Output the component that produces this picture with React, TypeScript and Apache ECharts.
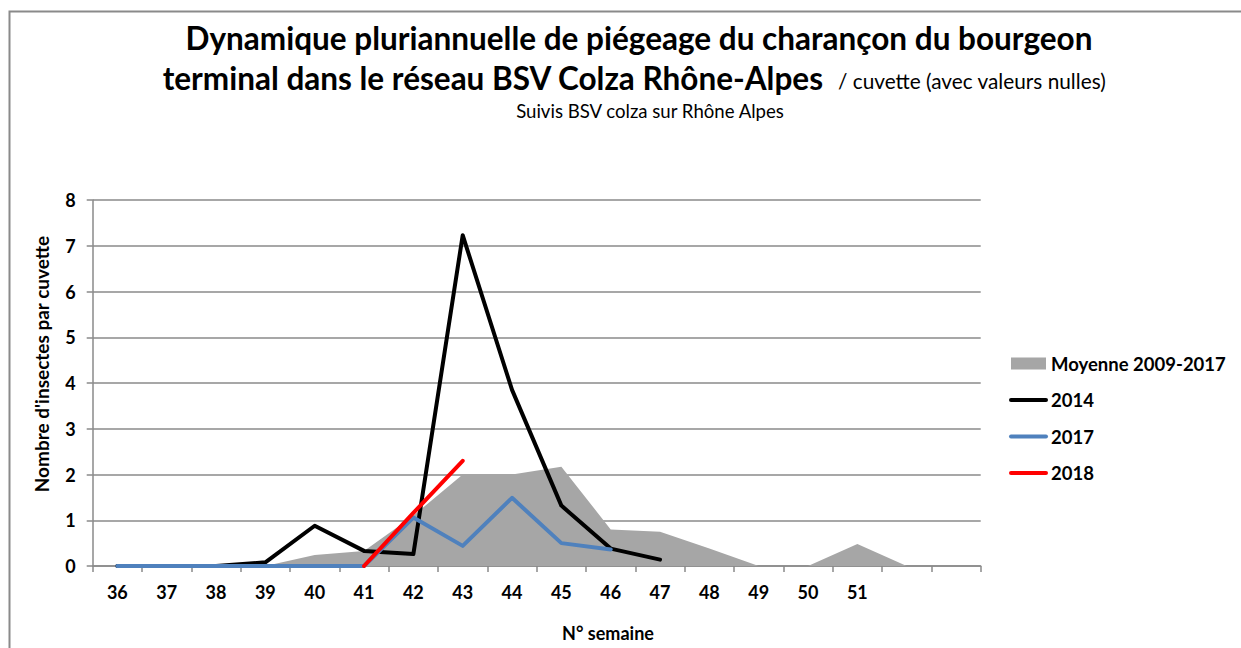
import React, { useEffect, useRef } from "react";
import * as echarts from "echarts";

const weeks = ["36", "37", "38", "39", "40", "41", "42", "43", "44", "45", "46", "47", "48", "49", "50", "51", "", ""];
const moyenne = [0, 0, 0, 0, 0.24, 0.33, 1.1, 2.0, 2.0, 2.17, 0.8, 0.75, 0.38, 0, 0, 0.48, 0, null];
const y2014 = [0, 0, 0, 0.08, 0.88, 0.33, 0.26, 7.23, 3.85, 1.32, 0.38, 0.14, null, null, null, null, null, null];
const y2017 = [0, 0, 0, 0, 0, 0, 1.06, 0.44, 1.49, 0.5, 0.36, null, null, null, null, null, null, null];
const y2018 = [null, null, null, null, null, 0, 1.16, 2.3, null, null, null, null, null, null, null, null, null, null];
const yTicks = [0, 1, 2, 3, 4, 5, 6, 7, 8];

const FONT = "Lato, 'Open Sans', sans-serif";

export default function App() {
  const ref = useRef<HTMLDivElement>(null);
  useEffect(() => {
    if (!ref.current) return;
    const chart = echarts.init(ref.current, undefined, { renderer: "svg" });
    const gridColor = "#8a8a8a";
    chart.setOption({
      animation: false,
      backgroundColor: "#ffffff",
      textStyle: { fontFamily: FONT },
      grid: { left: 92.7, right: 260.3, top: 200, bottom: 82, containLabel: false },
      xAxis: {
        type: "category",
        data: weeks,
        boundaryGap: true,
        axisLine: { show: true, lineStyle: { color: gridColor, width: 1.5 } },
        axisTick: { show: true, length: 6, lineStyle: { color: gridColor, width: 1.5 } },
        axisLabel: { color: "#000", fontWeight: "bold", fontSize: 18, margin: 17, fontFamily: FONT, interval: 0 },
        splitLine: { show: false },
      },
      yAxis: {
        type: "value",
        min: yTicks[0],
        max: yTicks[yTicks.length - 1],
        interval: 1,
        axisLine: { show: true, lineStyle: { color: gridColor, width: 1.5 } },
        axisTick: { show: true, length: 6, lineStyle: { color: gridColor, width: 1.5 } },
        axisLabel: { color: "#000", fontWeight: "bold", fontSize: 18, margin: 17, fontFamily: FONT },
        splitLine: { show: true, lineStyle: { color: gridColor, width: 1.5 } },
      },
      legend: {
        orient: "vertical",
        left: 1009,
        top: 354,
        padding: 0,
        itemWidth: 35,
        itemHeight: 12,
        itemGap: 17.5,
        lineStyle: { width: 4 },
        textStyle: { color: "#000", fontWeight: "bold", fontSize: 18.5, lineHeight: 18, fontFamily: FONT },
        data: [
          { name: "Moyenne 2009-2017", icon: "rect" },
          { name: "2014", itemStyle: { opacity: 0 }, lineStyle: { width: 4 } },
          { name: "2017", itemStyle: { opacity: 0 }, lineStyle: { width: 4 } },
          { name: "2018", itemStyle: { opacity: 0 }, lineStyle: { width: 4 } },
        ],
      },
      series: [
        {
          name: "Moyenne 2009-2017",
          type: "line",
          data: moyenne,
          symbol: "none",
          showSymbol: false,
          lineStyle: { width: 0, color: "#a6a6a6" },
          itemStyle: { color: "#a6a6a6" },
          areaStyle: { color: "#a6a6a6", opacity: 1 },
          z: 1,
        },
        {
          name: "2014",
          type: "line",
          data: y2014,
          symbol: "none",
          showSymbol: false,
          lineStyle: { width: 4, color: "#000000", cap: "round", join: "round" },
          itemStyle: { color: "#000000" },
          z: 2,
        },
        {
          name: "2017",
          type: "line",
          data: y2017,
          symbol: "none",
          showSymbol: false,
          lineStyle: { width: 4, color: "#4f81bd", cap: "round", join: "round" },
          itemStyle: { color: "#4f81bd" },
          z: 3,
        },
        {
          name: "2018",
          type: "line",
          data: y2018,
          symbol: "none",
          showSymbol: false,
          lineStyle: { width: 4, color: "#ff0000", cap: "round", join: "round" },
          itemStyle: { color: "#ff0000" },
          z: 4,
        },
      ],
      graphic: [
        {
          type: "polyline",
          shape: { points: [[9.5, 660], [9.5, 11.5], [1260, 11.5]] },
          style: { stroke: "#8a8a8a", lineWidth: 2, fill: "none" },
          silent: true,
        },
        {
          type: "text",
          x: 639,
          y: 38,
          style: {
            text: "Dynamique pluriannuelle de piégeage du charançon du bourgeon",
            fontFamily: FONT,
            fontWeight: "bold",
            fontSize: 31.5,
            fill: "#000",
            align: "center",
            verticalAlign: "middle",
          },
        },
        {
          type: "text",
          x: 823,
          y: 78,
          style: {
            text: "terminal dans le réseau BSV Colza Rhône-Alpes",
            fontFamily: FONT,
            fontWeight: "bold",
            fontSize: 31.5,
            fill: "#000",
            align: "right",
            verticalAlign: "middle",
          },
        },
        {
          type: "text",
          x: 838,
          y: 80,
          style: {
            text: "/ cuvette (avec valeurs nulles)",
            fontFamily: FONT,
            fontSize: 20.8,
            fill: "#000",
            align: "left",
            verticalAlign: "middle",
          },
        },
        {
          type: "text",
          x: 650,
          y: 111,
          style: {
            text: "Suivis BSV colza sur Rhône Alpes",
            fontFamily: FONT,
            fontSize: 18.6,
            fill: "#000",
            align: "center",
            verticalAlign: "middle",
          },
        },
        {
          type: "text",
          x: 608,
          y: 633,
          style: {
            text: "N° semaine",
            fontFamily: FONT,
            fontWeight: "bold",
            fontSize: 18,
            fill: "#000",
            align: "center",
            verticalAlign: "middle",
          },
        },
        {
          type: "text",
          x: 41,
          y: 364,
          rotation: Math.PI / 2,
          style: {
            text: "Nombre d'insectes par cuvette",
            fontFamily: FONT,
            fontWeight: "bold",
            fontSize: 19,
            fill: "#000",
            align: "center",
            verticalAlign: "middle",
          },
        },
      ],
    });
    return () => chart.dispose();
  }, []);
  return <div ref={ref} style={{ position: "fixed", left: 0, top: 0, width: 1241, height: 648 }} />;
}
